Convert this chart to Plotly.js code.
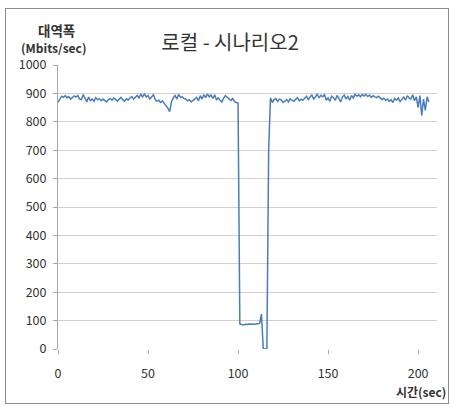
<!DOCTYPE html>
<html>
<head>
<meta charset="utf-8">
<script src="https://cdn.plot.ly/plotly-3.0.1.min.js"></script>
<style>
html,body{margin:0;padding:0;background:#fff;}
#frame{position:absolute;left:5px;top:8px;width:444px;height:396px;border:1px solid #8c8c8c;box-sizing:border-box;}
#chart{position:absolute;left:0;top:0;width:452px;height:407px;}
</style>
</head>
<body>
<div id="frame"></div>
<div id="chart"></div>
<script>
// Bandwidth (Mbits/sec) per second
const bandwidth = [
 868, 882, 890, 886, 892, 885, 889, 880, 884, 891,
 887, 893, 880, 878, 896, 884, 870, 887, 875, 880,
 872, 885, 878, 881, 874, 880, 876, 870, 878, 882,
 876, 884, 879, 873, 880, 886, 878, 872, 881, 877,
 884, 889, 880, 886, 893, 884, 897, 888, 898, 887,
 893, 880, 887, 895, 878, 872, 876, 868, 874, 866,
 858, 848, 836, 870, 884, 893, 880, 897, 886, 888,
 882, 880, 874, 878, 870, 876, 882, 886, 874, 892,
 880, 896, 885, 898, 888, 894, 882, 895, 878, 884,
 876, 870, 883, 892, 886, 880, 875, 882, 872, 868,
 866, 88, 86, 85, 87, 86, 88, 87, 86, 87,
 88, 89, 90, 123, 2, 0, 0, 700, 885, 868,
 878, 882, 872, 880, 877, 868, 874, 878, 870, 881,
 876, 872, 879, 885, 874, 880, 876, 884, 890, 878,
 886, 895, 880, 887, 898, 884, 893, 888, 896, 876,
 884, 872, 890, 885, 876, 893, 882, 870, 888, 894,
 880, 889, 876, 893, 884, 897, 890, 895, 888, 896,
 891, 897, 889, 894, 886, 892, 888, 885, 890, 882,
 878, 883, 876, 880, 872, 878, 868, 882, 876, 884,
 870, 879, 887, 876, 892, 884, 880, 895, 874, 888,
 850, 892, 822, 880, 840, 888, 870
];
const timeSec = bandwidth.map((_, i) => i);
const xTicks = [0, 50, 100, 150, 200];
const yTicks = [0, 100, 200, 300, 400, 500, 600, 700, 800, 900, 1000];

const titleText = "로컬 - 시나리오2";
const yTitleLine1 = "대역폭";
const yTitleLine2 = "(Mbits/sec)";
const xTitleText = "시간(sec)";

const font = "'Noto Sans CJK KR', 'Noto Sans', sans-serif";

const trace = {
  x: timeSec, y: bandwidth, type: 'scatter', mode: 'lines',
  line: {color: '#4a7ebb', width: 1.5}, hoverinfo: 'skip'
};

const layout = {
  width: 452, height: 407,
  margin: {l: 58, r: 15, t: 65, b: 58},
  paper_bgcolor: 'rgba(0,0,0,0)', plot_bgcolor: 'rgba(0,0,0,0)',
  showlegend: false,
  font: {family: font, color: '#333', size: 12},
  title: {text: titleText, x: 0.454, xref: 'paper', xanchor: 'center', y: 0.894, yref: 'container', yanchor: 'middle',
          font: {family: font, size: 20, color: '#333'}},
  xaxis: {
    range: [0, 210.5], tickvals: xTicks, ticktext: xTicks.map(String),
    showgrid: false, zeroline: false, showline: false,
    ticks: 'outside', ticklen: 4, tickcolor: '#a6a6a6', ticklabelstandoff: 9,
    tickfont: {size: 12.5, color: '#333'}
  },
  yaxis: {
    range: [0, 1000], tickvals: yTicks, ticktext: yTicks.map(String),
    showgrid: true, gridcolor: '#d6cfc8', gridwidth: 1, zeroline: false,
    showline: true, linecolor: '#a6a6a6', linewidth: 1,
    ticks: 'outside', ticklen: 4, tickcolor: '#a6a6a6', ticklabelstandoff: 4,
    tickfont: {size: 12.5, color: '#333'}
  },
  annotations: [
    {text: '<b>' + yTitleLine1 + '</b>', xref: 'paper', yref: 'paper', x: -0.003, y: 1.123, xanchor: 'center', yanchor: 'middle',
     showarrow: false, font: {family: font, size: 13.5, color: '#333'}},
    {text: '<b>' + yTitleLine2 + '</b>', xref: 'paper', yref: 'paper', x: -0.011, y: 1.06, xanchor: 'center', yanchor: 'middle',
     showarrow: false, font: {family: font, size: 12, color: '#333'}},
    {text: '<b>' + xTitleText + '</b>', xref: 'paper', yref: 'paper', x: 1.029, y: -0.151, xanchor: 'right', yanchor: 'middle',
     showarrow: false, font: {family: font, size: 12, color: '#333'}}
  ]
};

Plotly.newPlot('chart', [trace], layout, {displayModeBar: false, staticPlot: true});
</script>
</body>
</html>
